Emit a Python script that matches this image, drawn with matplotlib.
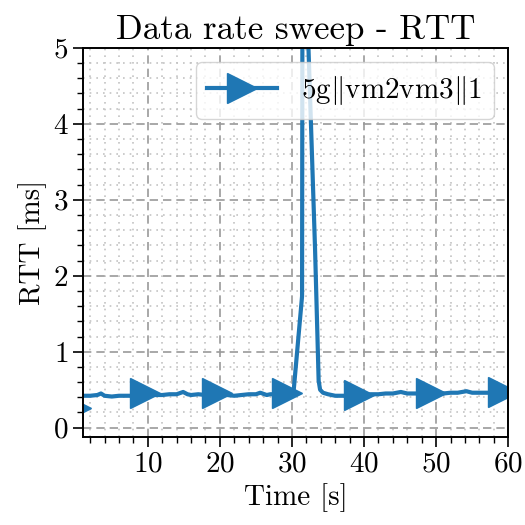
import numpy as np
import matplotlib
matplotlib.use("Agg")
import matplotlib.pyplot as plt

plt.rcParams["font.family"] = ["cmr10", "DejaVu Serif"]
plt.rcParams["mathtext.fontset"] = "cm"
plt.rcParams["axes.formatter.use_mathtext"] = True
plt.rcParams["font.size"] = 21

# RTT samples
time_s = [0.0, 0.9, 2.0, 3.0, 3.5, 4.0, 5.0, 6.0, 7.0, 8.0, 9.0, 9.6,
          10.5, 11.0, 12.0, 13.0, 14.0, 14.9, 15.5, 16.0, 17.0, 18.0, 19.0, 19.6,
          20.5, 21.0, 22.0, 23.0, 24.0, 25.0, 25.6, 26.5, 27.0, 28.0, 29.0, 29.3,
          30.2, 31.4, 31.45, 31.8, 32.15, 33.2, 33.7, 33.9, 34.3, 35.0,
          36.0, 37.0, 38.0, 39.3, 40.0, 41.0, 42.0, 43.0, 44.0, 45.1, 46.0,
          47.0, 48.0, 49.3, 50.0, 51.0, 52.0, 53.0, 54.2, 55.0, 56.0, 57.0,
          58.0, 59.3, 60.0]
rtt_ms = [0.26, 0.42, 0.42, 0.43, 0.45, 0.42, 0.41, 0.42, 0.42, 0.42, 0.44, 0.45,
          0.43, 0.43, 0.43, 0.44, 0.44, 0.47, 0.44, 0.43, 0.44, 0.43, 0.44, 0.45,
          0.43, 0.43, 0.42, 0.43, 0.44, 0.44, 0.46, 0.43, 0.44, 0.44, 0.45, 0.45,
          0.45, 1.73, 5.6, 7.0, 5.4, 2.36, 0.62, 0.5, 0.46, 0.44,
          0.42, 0.42, 0.42, 0.43, 0.43, 0.44, 0.44, 0.45, 0.45, 0.47, 0.45,
          0.45, 0.45, 0.45, 0.45, 0.45, 0.46, 0.46, 0.48, 0.46, 0.46, 0.46,
          0.46, 0.47, 0.47]
marker_times = [0.0, 9.6, 19.6, 29.3, 39.3, 49.3, 59.3]
series_label = r"5g$\|$vm2vm3$\|$1"

fig = plt.figure(figsize=(5.25, 5.25), dpi=100)
ax = fig.add_axes([0.158, 0.168, 0.81, 0.741])

mark_idx = [int(np.argmin(np.abs(np.array(time_s) - t))) for t in marker_times]
ax.plot(time_s, rtt_ms, color="#1f77b4", lw=3.0, marker=">", markersize=22,
        markevery=mark_idx, label=series_label)

ax.set_xlim(1, 60)
ax.set_ylim(-0.12, 5)
ax.set_xticks([10, 20, 30, 40, 50, 60])
ax.set_xticks(np.arange(2, 60, 2), minor=True)
ax.set_yticks([0, 1, 2, 3, 4, 5])
ax.set_yticks(np.arange(0, 5.01, 0.2), minor=True)

ax.grid(which="major", color="#9a9a9a", linestyle=(0, (5, 3)), linewidth=1.2)
ax.grid(which="minor", color="#c4c4c4", linestyle=(0, (1, 3)), linewidth=1.2)
ax.set_axisbelow(True)

ax.tick_params(which="major", length=7, width=1.2)
ax.tick_params(which="minor", length=4.5, width=1.0)
for sp in ax.spines.values():
    sp.set_linewidth(1.4)

ax.set_title("Data rate sweep - RTT")
ax.set_xlabel("Time [s]")
ax.set_ylabel("RTT [ms]")

ax.legend(loc="upper right", handlelength=2.4, framealpha=0.8, edgecolor="#cccccc")

fig.savefig("out.png", dpi=100)
